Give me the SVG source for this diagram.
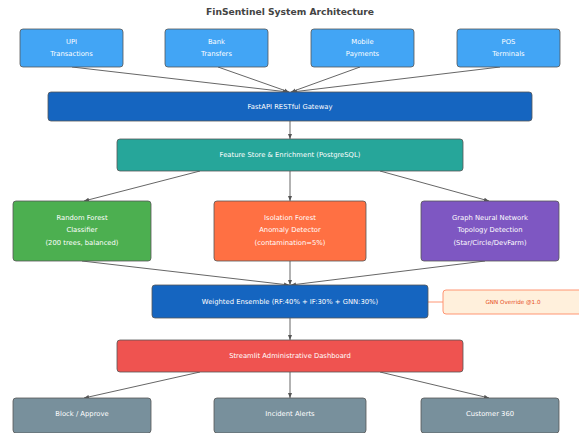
<svg xmlns="http://www.w3.org/2000/svg" width="579" height="433" viewBox="0 0 579 433">
<style>
.t{font-family:"DejaVu Sans",sans-serif;font-size:6.8px;fill:#fff;text-anchor:middle}
.b{stroke:#555;stroke-width:0.8}
.e{stroke:#555;stroke-width:0.9;fill:none}
</style>
<defs>
<marker id="a" viewBox="0 0 10 10" refX="10" refY="5" markerWidth="5" markerHeight="5" orient="auto-start-reverse" markerUnits="userSpaceOnUse"><path d="M0,1 L10,5 L0,9 z" fill="#555"/></marker>
</defs>
<rect width="579" height="433" fill="#fff"/>
<text x="290" y="15" style="font-family:'DejaVu Sans',sans-serif;font-size:9.2px;font-weight:bold;fill:#444;text-anchor:middle">FinSentinel System Architecture</text>
<g id="connectors">
<path class="e" marker-end="url(#a)" d="M72,67 L288,92"/>
<path class="e" marker-end="url(#a)" d="M218,67 L289,92"/>
<path class="e" marker-end="url(#a)" d="M360,67 L291,92"/>
<path class="e" marker-end="url(#a)" d="M500,67 L292,92"/>
<path class="e" marker-end="url(#a)" d="M290,121 L290,139"/>
<path class="e" marker-end="url(#a)" d="M200,171 L84,201"/>
<path class="e" marker-end="url(#a)" d="M290,171 L290,201"/>
<path class="e" marker-end="url(#a)" d="M380,171 L489,201"/>
<path class="e" marker-end="url(#a)" d="M82,261 L289,285"/>
<path class="e" marker-end="url(#a)" d="M290,261 L290,285"/>
<path class="e" marker-end="url(#a)" d="M485,261 L291,285"/>
<path class="e" marker-end="url(#a)" d="M290,318 L290,340"/>
<path d="M428,302 L443,302" stroke="#FF8A65" stroke-width="0.9"/>
<path class="e" marker-end="url(#a)" d="M200,372 L84,398"/>
<path class="e" marker-end="url(#a)" d="M290,372 L290,398"/>
<path class="e" marker-end="url(#a)" d="M380,372 L489,398"/>
</g>
<g id="upi"><rect class="b" x="20" y="29" width="103" height="38" rx="3" fill="#42A5F5"/><text class="t" x="71.5" y="44">UPI</text><text class="t" x="71.5" y="56">Transactions</text></g>
<g id="bank"><rect class="b" x="165" y="29" width="103" height="38" rx="3" fill="#42A5F5"/><text class="t" x="216.5" y="44">Bank</text><text class="t" x="216.5" y="56">Transfers</text></g>
<g id="mobile"><rect class="b" x="311" y="29" width="103" height="38" rx="3" fill="#42A5F5"/><text class="t" x="362.5" y="44">Mobile</text><text class="t" x="362.5" y="56">Payments</text></g>
<g id="pos"><rect class="b" x="457" y="29" width="103" height="38" rx="3" fill="#42A5F5"/><text class="t" x="508.5" y="44">POS</text><text class="t" x="508.5" y="56">Terminals</text></g>
<g id="gateway"><rect class="b" x="48" y="92" width="484" height="29" rx="3" fill="#1565C0"/><text class="t" x="290" y="109">FastAPI RESTful Gateway</text></g>
<g id="feature"><rect class="b" x="117" y="139" width="346" height="32" rx="3" fill="#26A69A"/><text class="t" x="290" y="157">Feature Store &amp; Enrichment (PostgreSQL)</text></g>
<g id="rf"><rect class="b" x="13" y="201" width="138" height="60" rx="3" fill="#4CAF50"/><text class="t" x="82" y="220">Random Forest</text><text class="t" x="82" y="232">Classifier</text><text class="t" x="82" y="245">(200 trees, balanced)</text></g>
<g id="if"><rect class="b" x="214" y="201" width="152" height="60" rx="3" fill="#FF7043"/><text class="t" x="290" y="220">Isolation Forest</text><text class="t" x="290" y="232">Anomaly Detector</text><text class="t" x="290" y="245">(contamination=5%)</text></g>
<g id="gnn"><rect class="b" x="421" y="201" width="138" height="60" rx="3" fill="#7E57C2"/><text class="t" x="490" y="220">Graph Neural Network</text><text class="t" x="490" y="232">Topology Detection</text><text class="t" x="490" y="245">(Star/Circle/DevFarm)</text></g>
<g id="ensemble"><rect class="b" x="152" y="285" width="276" height="33" rx="3" fill="#1565C0"/><text class="t" x="290" y="304">Weighted Ensemble (RF:40% + IF:30% + GNN:30%)</text></g>
<g id="override"><rect x="443" y="290" width="140" height="24" rx="3" fill="#FFF0DC" stroke="#FF8A65" stroke-width="0.9"/><text x="513" y="304" style="font-family:'DejaVu Sans',sans-serif;font-size:5.6px;fill:#E64A19;text-anchor:middle">GNN Override @1.0</text></g>
<g id="dashboard"><rect class="b" x="117" y="340" width="346" height="32" rx="3" fill="#EF5350"/><text class="t" x="290" y="358">Streamlit Administrative Dashboard</text></g>
<g id="block"><rect class="b" x="13" y="398" width="138" height="35" rx="3" fill="#78909C"/><text class="t" x="82" y="416">Block / Approve</text></g>
<g id="alerts"><rect class="b" x="214" y="398" width="152" height="35" rx="3" fill="#78909C"/><text class="t" x="290" y="416">Incident Alerts</text></g>
<g id="c360"><rect class="b" x="421" y="398" width="138" height="35" rx="3" fill="#78909C"/><text class="t" x="490" y="416">Customer 360</text></g>
</svg>
